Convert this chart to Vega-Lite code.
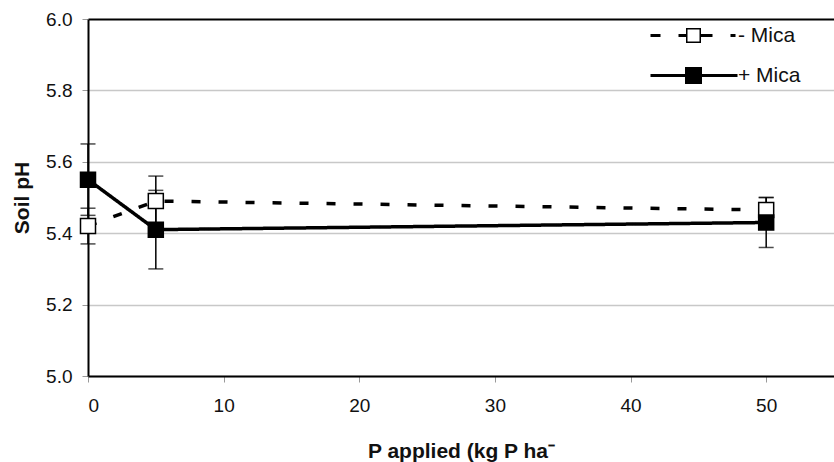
{
  "$schema": "https://vega.github.io/schema/vega-lite/v6.json",
  "width": 746,
  "height": 357,
  "autosize": {"type": "none"},
  "padding": {"left": 88, "top": 19, "right": 0, "bottom": 86},
  "background": "white",
  "config": {"view": {"stroke": null}, "font": "Liberation Sans"},
  "data": {
    "values": [
      {"s": "- Mica", "p": 0, "ph": 5.42, "lo": 5.37, "hi": 5.47},
      {"s": "- Mica", "p": 5, "ph": 5.49, "lo": 5.42, "hi": 5.56},
      {"s": "- Mica", "p": 50, "ph": 5.465, "lo": 5.43, "hi": 5.50},
      {"s": "+ Mica", "p": 0, "ph": 5.55, "lo": 5.45, "hi": 5.65},
      {"s": "+ Mica", "p": 5, "ph": 5.41, "lo": 5.30, "hi": 5.52},
      {"s": "+ Mica", "p": 50, "ph": 5.43, "lo": 5.36, "hi": 5.50}
    ]
  },
  "encoding": {
    "x": {
      "field": "p",
      "type": "quantitative",
      "scale": {"domain": [0, 55], "nice": false, "zero": false},
      "axis": {
        "title": "P applied (kg P ha⁻",
        "values": [0, 10, 20, 30, 40, 50],
        "grid": false,
        "domainColor": "black",
        "domainWidth": 2,
        "tickColor": "#999999",
        "tickSize": 6,
        "tickWidth": 1,
        "labelFontSize": 19,
        "labelColor": "#111111",
        "labelPadding": 14,
        "titleFontSize": 21,
        "titleFontWeight": "bold",
        "titleColor": "#111111",
        "titleY": 81,
        "titleBaseline": "alphabetic"
      }
    }
  },
  "layer": [
    {
      "mark": {"type": "rule", "color": "black", "strokeWidth": 1.5},
      "encoding": {
        "y": {
          "field": "lo",
          "type": "quantitative",
          "title": "Soil pH",
          "scale": {"domain": [5, 6], "nice": false, "zero": false},
          "axis": {
            "title": "Soil pH",
            "values": [5, 5.2, 5.4, 5.6, 5.8, 6],
            "format": ".1f",
            "grid": true,
            "gridColor": {"condition": {"test": "datum.value > 5.99", "value": "black"}, "value": "#c8c8c8"},
            "gridWidth": {"condition": {"test": "datum.value > 5.99", "value": 2}, "value": 1.5},
            "domainColor": "black",
            "domainWidth": 2,
            "tickColor": "#999999",
            "tickSize": 6,
            "tickWidth": 1,
            "labelFontSize": 19,
            "labelColor": "#111111",
            "labelPadding": 10,
            "titleFontSize": 21,
            "titleFontWeight": "bold",
            "titleColor": "#111111",
            "titleX": -60,
            "titleBaseline": "alphabetic"
          }
        },
        "y2": {"field": "hi"}
      }
    },
    {
      "mark": {"type": "tick", "orient": "horizontal", "color": "black", "size": 15, "thickness": 1.5},
      "encoding": {"y": {"field": "lo", "type": "quantitative", "title": "Soil pH"}}
    },
    {
      "mark": {"type": "tick", "orient": "horizontal", "color": "black", "size": 15, "thickness": 1.5},
      "encoding": {"y": {"field": "hi", "type": "quantitative", "title": "Soil pH"}}
    },
    {
      "mark": {"type": "line", "color": "black", "strokeWidth": 3.5},
      "encoding": {
        "y": {"field": "ph", "type": "quantitative", "title": "Soil pH"},
        "strokeDash": {
          "field": "s",
          "type": "nominal",
          "scale": {"domain": ["- Mica", "+ Mica"], "range": [[9, 18], [1, 0]]},
          "legend": null
        }
      }
    },
    {
      "mark": {"type": "point", "shape": "square", "filled": true, "size": 225, "stroke": "black", "strokeWidth": 1.5, "opacity": 1},
      "encoding": {
        "y": {"field": "ph", "type": "quantitative", "title": "Soil pH"},
        "fill": {
          "field": "s",
          "type": "nominal",
          "scale": {"domain": ["- Mica", "+ Mica"], "range": ["white", "black"]},
          "legend": null
        }
      }
    },
    {
      "mark": {"type": "point", "filled": true, "size": 0, "color": "black"},
      "encoding": {
        "y": {"field": "ph", "type": "quantitative", "title": "Soil pH"},
        "shape": {
          "field": "s",
          "type": "nominal",
          "sort": "descending",
          "scale": {
            "range": [
              "M-4.3,-0.15H-3.3V0.15H-4.3Z M-1.5,-0.15H-0.75V0.15H-1.5Z M0.75,-0.15H1.9V0.15H0.75Z M3.7,-0.15H4.2V0.15H3.7Z M-0.75,-0.75H0.75V0.75H-0.75Z M-0.6,-0.6V0.6H0.6V-0.6Z",
              "M-4.3,-0.15H4.4V0.15H-4.3Z M-0.85,-0.85H0.85V0.85H-0.85Z"
            ]
          },
          "legend": {
            "title": null,
            "orient": "none",
            "legendX": 595,
            "legendY": 6,
            "padding": 0,
            "labelFontSize": 21,
            "labelColor": "#111111",
            "labelOffset": 34,
            "symbolSize": 400,
            "symbolFillColor": "black",
            "symbolStrokeColor": "transparent",
            "symbolStrokeWidth": 0,
            "symbolOpacity": 1,
            "rowPadding": 18
          }
        }
      }
    }
  ]
}
